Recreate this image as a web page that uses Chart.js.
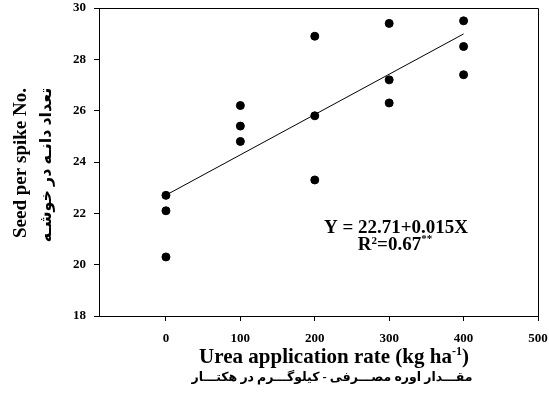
<!DOCTYPE html>
<html>
<head>
<meta charset="utf-8">
<script src="https://cdn.jsdelivr.net/npm/chart.js@4"></script>
<style>
  body { margin: 0; background: #fff; }
  #wrap { width: 549px; height: 410px; }
</style>
</head>
<body>
<div id="wrap"><canvas id="myChart"></canvas></div>
<script>
// urea rate (kg/ha) and seeds per spike, 3 reps per rate
const rates = [0, 0, 0, 100, 100, 100, 200, 200, 200, 300, 300, 300, 400, 400, 400];
const seeds = [22.7, 22.1, 20.3, 26.2, 25.4, 24.8, 28.9, 25.8, 23.3, 29.4, 27.2, 26.3, 29.5, 28.5, 27.4];
// regression line Y = 22.71 + 0.0157X
const fitX = [0, 400];
const fitY = [22.71, 28.99];
const xTicks = [0, 100, 200, 300, 400, 500];
const yTicks = [18, 20, 22, 24, 26, 28, 30];

const SERIF = "'Liberation Serif', 'Times New Roman', serif";
const FA = "'Liberation Serif', 'DejaVu Sans', sans-serif";

// draws text pieces (some superscript) centered on cx
function drawRich(ctx, segs, cx, y) {
  let total = 0;
  segs.forEach(s => { ctx.font = s.font; total += ctx.measureText(s.t).width; });
  let x = cx - total / 2;
  ctx.textAlign = "left";
  ctx.textBaseline = "alphabetic";
  segs.forEach(s => {
    ctx.font = s.font;
    ctx.fillText(s.t, x, y + (s.dy || 0));
    x += ctx.measureText(s.t).width;
  });
}

const extras = {
  id: "extras",
  afterDraw(chart) {
    const ctx = chart.ctx;
    const a = chart.chartArea;
    ctx.save();
    // closing box (top + right)
    ctx.strokeStyle = "#000";
    ctx.lineWidth = 1;
    ctx.beginPath();
    ctx.moveTo(a.left, a.top + 0.5);
    ctx.lineTo(a.right + 0.5, a.top + 0.5);
    ctx.lineTo(a.right + 0.5, a.bottom);
    ctx.stroke();

    ctx.fillStyle = "#000";
    const eq = "bold 19px " + SERIF;
    const sup = "bold 11px " + SERIF;

    // equation
    drawRich(ctx, [{ t: "Y = 22.71+0.015X", font: eq }], 396, 233);
    drawRich(ctx, [
      { t: "R", font: eq },
      { t: "2", font: sup, dy: -6 },
      { t: "=0.67", font: eq },
      { t: "**", font: sup, dy: -8 }
    ], 395, 250);

    // x titles
    const xt = "bold 21px " + SERIF;
    drawRich(ctx, [
      { t: "Urea application rate (kg ha", font: xt },
      { t: "-1", font: "bold 12px " + SERIF, dy: -8 },
      { t: ")", font: xt }
    ], 334, 363);
    ctx.font = "bold 12.5px " + FA;
    ctx.textAlign = "center";
    ctx.fillText("مقـــدار اوره مصـــرفی - کیلوگـــرم در هکتـــار", 332, 381);

    // y titles
    ctx.save();
    ctx.translate(21, 163);
    ctx.rotate(-Math.PI / 2);
    ctx.font = "bold 19px " + SERIF;
    ctx.textAlign = "center";
    ctx.textBaseline = "middle";
    ctx.fillText("Seed per spike No.", 0, 0);
    ctx.restore();

    ctx.save();
    ctx.translate(47, 165);
    ctx.rotate(-Math.PI / 2);
    ctx.font = "bold 16px " + FA;
    ctx.textAlign = "center";
    ctx.textBaseline = "middle";
    ctx.fillText("تعداد دانـه در خوشـه", 0, 0);
    ctx.restore();

    ctx.restore();
  }
};

const tickFont = { family: SERIF, size: 13, weight: "bold" };

const config = {
  type: "scatter",
  data: {
    datasets: [
      {
        label: "seeds",
        data: rates.map((r, i) => ({ x: r, y: seeds[i] })),
        backgroundColor: "#000",
        borderColor: "#000",
        pointRadius: 4,
        pointHoverRadius: 4,
      },
      {
        label: "fit",
        data: fitX.map((r, i) => ({ x: r, y: fitY[i] })),
        showLine: true,
        borderColor: "#000",
        borderWidth: 1,
        pointRadius: 0,
      },
    ],
  },
  options: {
    responsive: true,
    maintainAspectRatio: false,
    animation: false,
    layout: { padding: { left: 0, right: 11, top: 8, bottom: 0 } },
    plugins: { legend: { display: false }, tooltip: { enabled: false } },
    scales: {
      x: {
        type: "linear",
        min: -90,
        max: 500,
        afterBuildTicks: s => { s.ticks = xTicks.map(v => ({ value: v })); },
        afterFit: s => { s.height = 94; s.paddingLeft = 0; s.paddingRight = 0; },
        grid: { drawOnChartArea: false, tickLength: 5, color: "#000" },
        border: { color: "#000" },
        ticks: { font: tickFont, color: "#000", padding: 10, maxRotation: 0 },
      },
      y: {
        min: 18,
        max: 30,
        afterBuildTicks: s => { s.ticks = yTicks.map(v => ({ value: v })); },
        afterFit: s => { s.width = 99; s.paddingTop = 0; s.paddingBottom = 0; },
        grid: { drawOnChartArea: false, tickLength: 5, color: "#000" },
        border: { color: "#000" },
        ticks: { font: tickFont, color: "#000", padding: 8 },
      },
    },
  },
  plugins: [extras],
};

const context = document.getElementById("myChart").getContext("2d");
const chart = new Chart(context, config);
</script>
</body>
</html>
